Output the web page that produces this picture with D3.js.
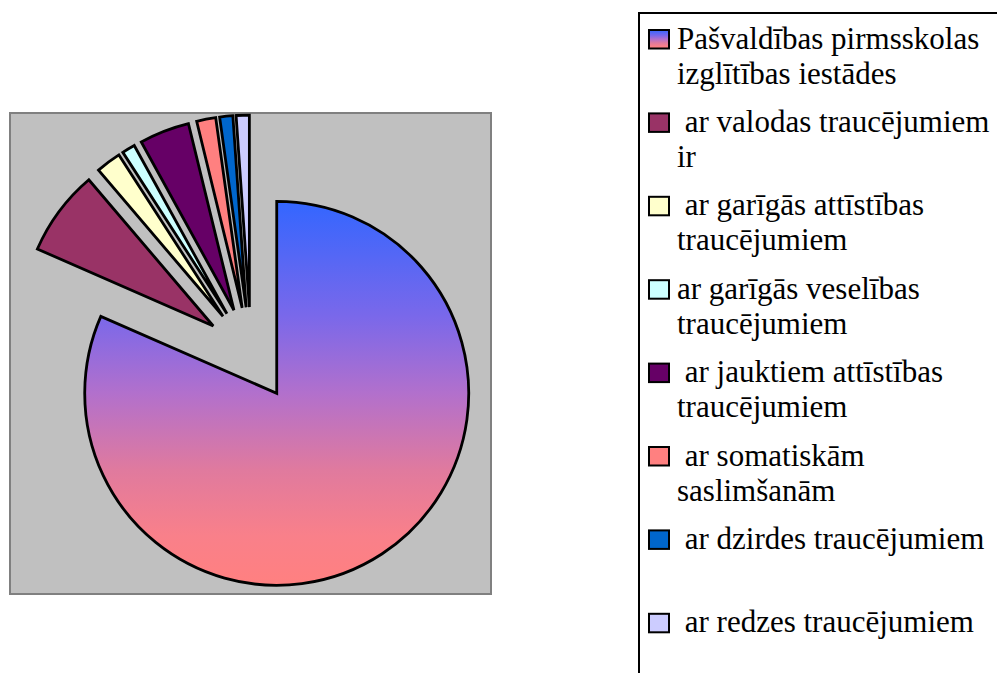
<!DOCTYPE html>
<html>
<head>
<meta charset="utf-8">
<script src="https://cdn.jsdelivr.net/npm/d3@7"></script>
<style>
  body { margin: 0; background: #fff; }
  svg { display: block; }
  .lg { font-family: 'Liberation Serif', Tinos, 'Times New Roman', Times, 'DejaVu Serif', serif; font-size: 31px; white-space: pre; }
</style>
</head>
<body>
<div id="chart"></div>
<script>
// shares of the pie, in percent
var categories = [
  ["Pašvaldības pirmsskolas", "izglītības iestādes"],
  [" ar valodas traucējumiem", "ir"],
  [" ar garīgās attīstības", "traucējumiem"],
  ["ar garīgās veselības", "traucējumiem"],
  [" ar jauktiem attīstības", "traucējumiem"],
  [" ar somatiskām", "saslimšanām"],
  [" ar dzirdes traucējumiem", ""],
  [" ar redzes traucējumiem", ""]
];
var values = [81.4, 7.2, 2.1, 1.1, 4.2, 1.6, 1.1, 1.1];
var colors = ["url(#grad)", "#993366", "#ffffcc", "#ccffff", "#660066", "#ff8080", "#0066cc", "#ccccff"];

var width = 997, height = 673;
var cx = 251, cy = 354, radius = 192, explode = 47;

var svg = d3.select('#chart').append('svg')
  .attr('width', width)
  .attr('height', height);

var defs = svg.append('defs');
var grad = defs.append('linearGradient')
  .attr('id', 'grad')
  .attr('x1', 0).attr('y1', 0).attr('x2', 0).attr('y2', 1);
[[0, '#3366ff'], [0.3, '#7a68ea'], [0.5, '#b270cc'], [0.7, '#e07a9e'], [0.87, '#f9808a'], [1, '#ff8080']]
  .forEach(function(s) {
    grad.append('stop').attr('offset', s[0]).attr('stop-color', s[1]);
  });

// plot area
svg.append('rect')
  .attr('x', 10).attr('y', 113)
  .attr('width', 481).attr('height', 481)
  .attr('fill', '#c0c0c0')
  .attr('stroke', '#808080')
  .attr('stroke-width', 2);

var pie = d3.pie().sort(null).value(function(d) { return d; });
var arc = d3.arc().innerRadius(0).outerRadius(radius);

svg.append('g')
  .attr('transform', 'translate(' + cx + ',' + cy + ')')
  .selectAll('path')
  .data(pie(values))
  .enter().append('path')
    .attr('d', arc)
    .attr('fill', function(d, i) { return colors[i]; })
    .attr('stroke', '#000')
    .attr('stroke-width', 2.8)
    .attr('transform', function(d) {
      var mid = (d.startAngle + d.endAngle) / 2;
      return 'translate(' + (explode * Math.sin(mid)) + ',' + (-explode * Math.cos(mid)) + ')';
    });

// legend
var legend = svg.append('g');
legend.append('rect')
  .attr('x', 639).attr('y', 13)
  .attr('width', 420).attr('height', 700)
  .attr('fill', '#fff')
  .attr('stroke', '#000')
  .attr('stroke-width', 2);

var item = legend.selectAll('g.item')
  .data(categories)
  .enter().append('g')
    .attr('class', 'item')
    .attr('transform', function(d, i) { return 'translate(0,' + (48.5 + i * 83.4) + ')'; });

item.append('rect')
  .attr('x', 649).attr('y', -18.5)
  .attr('width', 20).attr('height', 18.5)
  .attr('fill', function(d, i) { return colors[i]; })
  .attr('stroke', '#000')
  .attr('stroke-width', 2);

item.append('text')
  .attr('class', 'lg')
  .attr('x', 677)
  .attr('y', 0)
  .text(function(d) { return d[0]; });

item.append('text')
  .attr('class', 'lg')
  .attr('x', 677)
  .attr('y', 35)
  .text(function(d) { return d[1]; });
</script>
</body>
</html>
